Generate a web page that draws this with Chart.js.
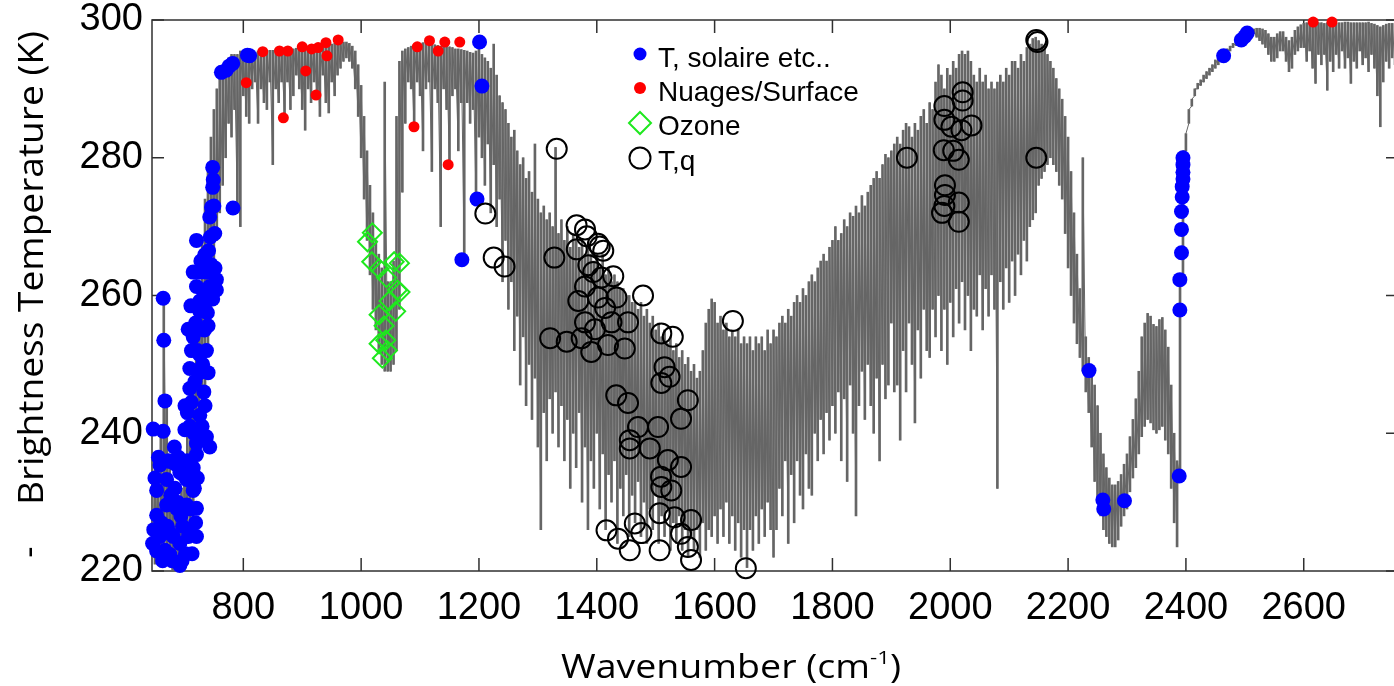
<!DOCTYPE html>
<html lang="fr">
<head>
<meta charset="utf-8">
<title>Brightness Temperature</title>
<script src="https://cdn.jsdelivr.net/npm/chart.js@4.4.1/dist/chart.umd.min.js"></script>
<style>
  html, body { margin: 0; padding: 0; background: #fff; overflow: hidden; }
  #chart { display: block; }
</style>
</head>
<body>
<canvas id="chart" width="1410" height="686"></canvas>
<script>
// spectre (cm-1) : bas et haut de chaque trait
const specWn = [
  645, 650, 655, 660, 665, 670, 675, 680, 685, 690, 695,
  700, 705, 710, 715, 720, 725, 730, 735, 740, 745, 750, 755, 760, 765, 770, 775, 780, 785, 790, 795,
  800, 805, 810, 815, 820, 825, 830, 835, 840, 845, 850, 855, 860, 865, 870, 875, 880, 885, 890, 895,
  900, 905, 910, 915, 920, 925, 930, 935, 940, 945, 950, 955, 960, 965, 970, 975, 980, 985, 990, 995,
  1000, 1005, 1010, 1015, 1020, 1025, 1030, 1035, 1040, 1045, 1050, 1055, 1060, 1065, 1070, 1075, 1080, 1085, 1090, 1095,
  1100, 1105, 1110, 1115, 1120, 1125, 1130, 1135, 1140, 1145, 1150, 1155, 1160, 1165, 1170, 1175, 1180, 1185, 1190, 1195,
  1200, 1205, 1210, 1215, 1220, 1225, 1230, 1235, 1240, 1245, 1250, 1255, 1260, 1265, 1270, 1275, 1280, 1285, 1290, 1295,
  1300, 1305, 1310, 1315, 1320, 1325, 1330, 1335, 1340, 1345, 1350, 1355, 1360, 1365, 1370, 1375, 1380, 1385, 1390, 1395,
  1400, 1405, 1410, 1415, 1420, 1425, 1430, 1435, 1440, 1445, 1450, 1455, 1460, 1465, 1470, 1475, 1480, 1485, 1490, 1495,
  1500, 1505, 1510, 1515, 1520, 1525, 1530, 1535, 1540, 1545, 1550, 1555, 1560, 1565, 1570, 1575, 1580, 1585, 1590, 1595,
  1600, 1605, 1610, 1615, 1620, 1625, 1630, 1635, 1640, 1645, 1650, 1655, 1660, 1665, 1670, 1675, 1680, 1685, 1690, 1695,
  1700, 1705, 1710, 1715, 1720, 1725, 1730, 1735, 1740, 1745, 1750, 1755, 1760, 1765, 1770, 1775, 1780, 1785, 1790, 1795,
  1800, 1805, 1810, 1815, 1820, 1825, 1830, 1835, 1840, 1845, 1850, 1855, 1860, 1865, 1870, 1875, 1880, 1885, 1890, 1895,
  1900, 1905, 1910, 1915, 1920, 1925, 1930, 1935, 1940, 1945, 1950, 1955, 1960, 1965, 1970, 1975, 1980, 1985, 1990, 1995,
  2000, 2005, 2010, 2015, 2020, 2025, 2030, 2035, 2040, 2045, 2050, 2055, 2060, 2065, 2070, 2075, 2080, 2085, 2090, 2095,
  2100, 2105, 2110, 2115, 2120, 2125, 2130, 2135, 2140, 2145, 2150, 2155, 2160, 2165, 2170, 2175, 2180, 2185, 2190, 2195,
  2200, 2205, 2210, 2215, 2220, 2225, 2230, 2235, 2240, 2245, 2250, 2255, 2260, 2265, 2270, 2275, 2280, 2285, 2290, 2295,
  2300, 2305, 2310, 2315, 2320, 2325, 2330, 2335, 2340, 2345, 2350, 2355, 2360, 2365, 2370, 2375, 2380, 2385, 2390, 2395,
  2400, 2405, 2410, 2415, 2420, 2425, 2430, 2435, 2440, 2445, 2450, 2455, 2460, 2465, 2470, 2475, 2480, 2485, 2490, 2495,
  2500, 2505, 2510, 2515, 2520, 2525, 2530, 2535, 2540, 2545, 2550, 2555, 2560, 2565, 2570, 2575, 2580, 2585, 2590, 2595,
  2600, 2605, 2610, 2615, 2620, 2625, 2630, 2635, 2640, 2645, 2650, 2655, 2660, 2665, 2670, 2675, 2680, 2685, 2690, 2695,
  2700, 2705, 2710, 2715, 2720, 2725, 2730, 2735, 2740, 2745, 2750, 2755, 2760
];
const specLo = [
  222, 221, 222, 223, 224, 222, 221, 220, 220, 221, 222,
  223, 224, 225, 227, 232, 236, 240, 247, 252, 258, 263, 268, 272, 276, 280, 285, 283, 287, 272, 270,
  289, 286, 285, 290, 291, 285, 290, 288, 287, 291, 279, 290, 288, 291, 286, 291, 287, 289, 292, 290,
  287, 284, 290, 288, 291, 289, 286, 292, 288, 286.5, 291, 289, 292, 293, 294, 294.5, 294, 293, 290, 286,
  280, 274, 268, 263, 258, 255, 252, 250, 249, 249, 249, 250, 252, 258, 275, 285, 291, 290, 284, 291,
  289, 281, 290, 291, 278, 290, 288, 270, 290, 287, 278.5, 289, 290, 281, 288, 265, 288, 285, 287, 274,
  283, 280, 276, 282, 272, 279, 270, 274, 262, 268, 258, 262, 252, 257, 247, 254, 244, 250, 242, 248,
  238, 226, 243, 236, 245, 240, 246, 238, 244, 236, 242, 232, 240, 235, 243, 230, 238, 226, 236, 232,
  240, 229, 237, 226, 234, 230, 236, 224, 232, 228, 234, 225, 231, 227, 233, 225, 230, 224, 229, 226,
  231, 224, 228, 225, 229, 223, 227, 224, 228, 223, 226, 222, 225, 223, 226, 222, 227, 223, 226, 225,
  228, 224, 229, 225, 230, 224, 228, 223, 227, 222, 226, 220.5, 226, 223, 228, 224, 229, 225, 230, 226,
  222, 226, 232, 228, 236, 224, 234, 227, 236, 231, 229, 237, 232, 231, 240, 236, 242, 237, 243, 239,
  244, 240, 246, 236, 245, 233, 247, 240, 228, 244, 249, 242, 250, 244, 240, 248, 236, 250, 245, 247,
  256, 246, 247, 239, 252, 246, 256, 250, 241.5, 255, 248, 258, 252, 251, 258, 254, 260, 252, 258, 250,
  259, 254, 261, 256, 262, 255, 260, 252, 258, 257, 263, 255, 261, 257, 263, 258, 232, 262, 258, 264,
  259, 265, 260, 266, 263, 268, 265, 270, 271, 272, 276, 277, 278, 279, 280, 279, 278, 276, 274, 269,
  264, 260, 256, 253, 251, 249, 246, 243, 238, 233, 230, 228, 226, 225, 224, 223.5, 223.5, 224.5, 226.5, 228,
  229, 231.5, 233.5, 235, 237, 239.5, 241, 242, 241.5, 240.5, 240, 240.5, 241, 239, 237, 232, 227, 223.5, 233.8, 262,
  281, 285, 287.5, 289, 290, 290.5, 291, 291.5, 292, 292.5, 293, 293.5, 294, 294.5, 295, 295.5, 296, 296.3, 296.7, 297,
  297.3, 297.5, 297.8, 298, 297.5, 297, 296.5, 296, 295, 294, 294, 294.5, 295.5, 295.5, 294, 292.5, 293, 295, 295.5, 296,
  296, 294, 295.5, 293, 290.8, 295, 293.5, 295, 289.8, 294, 292.5, 295, 293, 295.5, 293, 294.5, 290.8, 294, 293, 295.5,
  293.5, 294.5, 292.5, 295, 293, 289, 284.5, 291, 294, 293, 294.5, 293.5, 294.5
];
const specHi = [
  234, 236, 233, 240, 260, 245, 236, 233, 232, 230, 232,
  236, 240, 244, 250, 256, 262, 268, 274, 279, 283, 287, 290, 292, 293, 294, 294.5, 295, 295, 295, 295.5,
  295.5, 295.5, 295.3, 295, 295.3, 295.5, 295.5, 295.6, 295.6, 295.6, 295.6, 295.7, 295.7, 295.7, 295.8, 295.8, 295.8, 295.8, 295.9, 295.9,
  296, 296, 296, 296.1, 296.2, 296.2, 296.3, 296.3, 296.4, 296.4, 296.5, 296.6, 296.8, 296.8, 296.8, 296.8, 296.6, 296.2, 295.5, 293.5,
  290.5, 286, 281, 276, 272, 268, 266, 264, 291, 262, 262, 265, 286, 294, 295.5, 295.8, 296, 296.2, 296.4, 296.5,
  296.6, 296.7, 296.7, 296.6, 296.5, 296.4, 296.3, 296.2, 296.2, 296.2, 296.1, 296, 295.8, 295.8, 295.7, 295.6, 295.5, 295.3, 295.2, 295.5,
  296, 295, 294.5, 294, 293, 296.5, 292, 289, 288, 287, 285, 283, 284, 281, 279, 280, 277, 278, 275, 282,
  274, 272, 273, 271, 272, 270, 281.5, 269, 271, 268, 270, 267, 269, 268, 267, 268, 266, 267, 266, 265,
  266, 264, 266, 263, 264, 262, 263, 262, 261, 261, 260, 260, 259, 259, 258, 259, 257, 258, 256, 257,
  255, 256, 254, 255, 253, 254, 252, 253, 251, 252, 250, 251, 249, 250, 248, 249, 252, 256, 258, 259.5,
  259, 256, 257, 255, 256, 254, 255, 254, 255, 253, 254, 253, 254, 252, 254, 253, 254, 252, 255, 253,
  255, 254, 256, 257, 256, 258, 257, 259, 260, 259, 261, 260, 262, 263, 262, 264, 265, 266, 265, 267,
  268, 270, 268, 269, 271, 270, 272, 271.5, 273, 272, 274.5, 273, 275, 276, 277, 278, 277, 279, 280.5, 280,
  281, 282, 283, 282, 284, 285, 284.5, 283, 285, 284, 286, 287, 285, 288, 287, 291, 293.5, 292, 290, 293,
  292, 294, 293, 295, 295.5, 295, 295.5, 294, 292, 291, 293, 291, 292, 290, 291, 290, 291, 292, 291, 293,
  292, 294, 294, 293, 295, 294, 296, 296.5, 297.3, 297.5, 297, 296.5, 296, 295, 294, 293, 291.5, 290, 288.5, 286,
  283, 278, 272, 266, 261, 280, 254, 251, 249, 247, 244, 240, 237, 235, 233.5, 232.5, 232.5, 233, 234, 235.5,
  237, 239.5, 242, 245, 249, 254, 256, 257.4, 257, 255.8, 255.5, 256.5, 256.8, 255, 252.5, 247, 240, 236, 262, 281,
  283.5, 287, 288.5, 290, 290.8, 291.3, 292, 292.5, 293, 293.5, 294.2, 294.6, 295, 295.4, 295.8, 296.2, 296.6, 297, 297.4, 297.7,
  298, 298.3, 298.5, 298.7, 298.8, 298.8, 298.7, 298.5, 298, 297.5, 297.5, 298, 298.3, 298.3, 297.5, 297, 297.5, 298.5, 299, 299.3,
  299.5, 299.6, 299.6, 299.6, 299.6, 299.6, 299.6, 299.5, 299.6, 299.6, 299.6, 299.5, 299.6, 299.6, 299.7, 299.7, 299.6, 299.6, 299.6, 299.6,
  299.6, 299.6, 299.7, 299.5, 299.4, 299.2, 299, 299.2, 299.4, 299.5, 299.5, 299.5, 299.5
];

// canaux "T, solaire etc.."
const solaireWn = [
  647, 664, 665, 667, 664, 658.5, 675.4, 652.9, 669.8, 692.3, 709.2, 720.5, 703.6, 714.9, 652.9, 669.8,
  686.7, 703.6, 720.5, 658.5, 675.4, 692.3, 709.2, 720.5, 692.3, 675.4, 652.9, 648, 684, 697,
  646, 650, 656, 661, 663, 667, 671, 673, 677, 679, 681, 683, 685, 688, 690, 694, 696, 698, 700, 702,
  705, 707, 711, 713, 715, 717, 719, 722,
  701, 705, 712, 716, 730, 733, 735, 718, 722, 731, 734, 719, 711, 728, 741, 745, 752, 739, 748, 744, 750, 749,
  709.2, 726.1, 737.4, 700.8, 720.5, 743, 706.4, 714.9, 726.1, 740.2, 712, 726, 737.4, 709.2, 726.1, 740.2, 709.2,
  714.9, 726.1, 737.4, 748.7, 754.3, 720.5, 731.8, 743, 754.3, 726.1, 737.4, 726.1, 731.8,
  720.5, 734.6, 746, 743, 748, 748, 751.5, 782.5, 762.8, 771, 776, 782, 807, 810.7,
  1171, 1196.7, 1201, 1205,
  2235.5, 2259, 2260.5, 2295.7, 2388.6, 2389.7, 2389.7, 2392.5, 2392.5, 2392.5, 2393.7, 2393.7,
  2395, 2395, 2395, 2395, 2464, 2494, 2500, 2504
];
const solaireT = [
  240.6, 259.6, 253.5, 244.7, 240.3, 235.4, 235.9, 231.7, 233.3, 234.3, 235.9, 236.9, 233.3, 231.7, 228.1, 229.6,
  229.1, 229.6, 229.1, 225, 225.5, 224, 226, 225, 220.8, 222.4, 222.9, 226, 232, 226.5,
  224, 233.5, 236.5, 227, 221.5, 223, 226.5, 236, 231, 221.5, 225, 238, 235.5, 230, 236.5, 228, 221.5, 234, 229, 222.5,
  236, 225, 229, 222.5, 235, 232, 227, 233.5,
  244, 243, 244.5, 240, 241, 246, 244, 247.5, 252, 250, 255, 256, 258.5, 265, 266.5, 264.5, 264, 257.5, 259.5, 268.5, 273, 276.8,
  241, 242.6, 239.5, 240.5, 238.5, 238, 255.1, 254, 255.1, 255.6, 252, 251.4, 252, 249.4, 248.8, 248.8, 246.5,
  263.4, 263.4, 263.4, 263.4, 262.3, 261.3, 260.8, 261.3, 260.8, 259.2, 259.2, 257.7, 258.7,
  268, 265.9, 272.8, 271.4, 278.6, 275.7, 269, 272.7, 292.4, 292.7, 293.3, 293.7, 294.9, 294.8,
  265.2, 274, 296.8, 290.4,
  249.1, 230.3, 229, 230.2, 233.8, 257.9, 262.3, 266.2, 269.6, 272.2, 274.3, 275.8,
  276.9, 277.9, 279, 280, 294.8, 297.1, 297.6, 298.1
];

// canaux "Nuages/Surface"
const nuagesWn = [805, 833, 861.4, 875.5, 868, 900, 906, 916, 923.4, 927, 940.3, 942, 961,
  1089.7, 1095.3, 1116, 1130.8, 1142, 1147.7, 1167.4, 2616, 2648];
const nuagesT = [290.9, 295.4, 295.5, 295.5, 285.8, 296.1, 292.6, 295.8, 289.1, 296, 296.7, 294.8, 297.1,
  284.5, 296.1, 297, 295.5, 296.8, 279, 296.8, 299.7, 299.7];

// canaux "Ozone"
const ozoneWn = [1010.8, 1019, 1018, 1030.5, 1043, 1056, 1061.5, 1047.4, 1058.6, 1030.5, 1039, 1041.8,
  1030.5, 1036, 1044.6, 1065, 1066];
const ozoneT = [267.8, 269.1, 264.9, 263.9, 262.6, 264.9, 260.8, 259.2, 257.7, 257.2, 255.6, 253.5,
  253, 250.9, 252, 264.7, 260.5];

// canaux "T,q"
const tqWn = [
  1210.8, 1225, 1243.5, 1332, 1328, 1365.7, 1380, 1383, 1402, 1405, 1411, 1366, 1385.6, 1394, 1408, 1428,
  1380, 1368.6, 1402, 1433.5, 1414, 1478.5, 1380, 1397, 1425, 1453, 1320.8, 1349, 1374.3, 1390.6, 1419, 1447.5,
  1509.5, 1529, 1515, 1523.6, 1509.5, 1554.6, 1543, 1433, 1453, 1470, 1504, 1456, 1456, 1490, 1520.7, 1543,
  1509, 1509.5, 1526.4, 1416.5, 1436, 1456, 1464.5, 1475.6, 1506.7, 1506.7, 1532, 1560, 1543, 1554.6, 1560,
  1653, 1631, 1926.5, 2021, 2021, 1990, 1990, 2002, 2019, 2036, 1989, 2005, 2014.5, 1991, 1991, 1990,
  2014.5, 1986, 2014.5, 2146, 2148, 2146
];
const tqT = [
  271.9, 265.5, 264.2, 281.3, 265.5, 270.2, 269.6, 268.6, 267.5, 267.1, 266.5, 266.7, 264.4, 263.4, 262.6, 262.8,
  261.3, 259.2, 259.7, 259.7, 258.2, 260, 256.1, 255.1, 256.1, 256.1, 253.8, 253.3, 253.8, 251.8, 252.8, 252.3,
  254.5, 254, 249.6, 248.2, 247.3, 244.8, 242.1, 245.5, 244.4, 240.9, 240.9, 239, 237.8, 237.8, 236.1, 235.1,
  233.7, 232.2, 231.7, 225.9, 224.7, 223, 226.9, 225.5, 228.4, 223, 227.8, 227.4, 225.4, 223.5, 221.6,
  220.4, 256.3, 280, 289.5, 288.3, 287.5, 285.5, 284.5, 284, 284.7, 281.1, 281, 279.7, 276, 274.6, 273,
  273.5, 272, 270.7, 297.1, 296.8, 280
];

const xTickValues = [800, 1000, 1200, 1400, 1600, 1800, 2000, 2200, 2400, 2600];
const yTickValues = [220, 240, 260, 280, 300];

const BLUE = '#0000ff', RED = '#ff0000', GREEN = '#1ee81e', BLACK = '#000000', GREY = '#666666';

function toPoints(xs, ys) {
  return xs.map((x, i) => ({ x: x, y: ys[i] }));
}

// le trait du spectre : bas puis haut de chaque canal
const specLine = [];
specWn.forEach((w, i) => {
  specLine.push({ x: w, y: specLo[i] });
  specLine.push({ x: w, y: specHi[i] });
});

// cadre, graduations internes, titres d'axes et légende
const decorPlugin = {
  id: 'decor',
  beforeDatasetsDraw(chart) {
    const { ctx, chartArea: a, scales } = chart;
    ctx.save();
    ctx.strokeStyle = '#303030';
    ctx.lineWidth = 1.5;
    ctx.strokeRect(a.left, a.top, a.right - a.left, a.bottom - a.top);
    ctx.beginPath();
    xTickValues.forEach(v => {
      const px = scales.x.getPixelForValue(v);
      ctx.moveTo(px, a.bottom); ctx.lineTo(px, a.bottom - 13);
      ctx.moveTo(px, a.top); ctx.lineTo(px, a.top + 13);
    });
    yTickValues.forEach(v => {
      const py = scales.y.getPixelForValue(v);
      ctx.moveTo(a.left, py); ctx.lineTo(a.left + 12, py);
      ctx.moveTo(a.right, py); ctx.lineTo(a.right - 12, py);
    });
    ctx.stroke();
    ctx.restore();
  },
  afterDraw(chart) {
    const ctx = chart.ctx;
    ctx.save();
    ctx.fillStyle = '#000';
    ctx.textBaseline = 'alphabetic';

    // titre x avec exposant
    const big = '32px "Open Sans"', small = '19px "Open Sans"';
    ctx.font = big;
    const wMain = ctx.measureText('Wavenumber (cm').width;
    const wClose = ctx.measureText(')').width;
    ctx.font = small;
    const wSup = ctx.measureText('-1').width;
    const sx = 340 / (wMain + wSup + wClose);
    ctx.save();
    ctx.translate(561, 678);
    ctx.scale(sx, 1);
    ctx.textAlign = 'left';
    ctx.font = big;
    ctx.fillText('Wavenumber (cm', 0, 0);
    ctx.font = small;
    ctx.fillText('-1', wMain, -14);
    ctx.font = big;
    ctx.fillText(')', wMain + wSup, 0);
    ctx.restore();

    // titre y
    ctx.save();
    ctx.translate(43, 268);
    ctx.rotate(-Math.PI / 2);
    ctx.font = '35px "Open Sans"';
    const wy = ctx.measureText('Brightness Temperature (K)').width;
    ctx.scale(474 / wy, 1);
    ctx.textAlign = 'center';
    ctx.fillText('Brightness Temperature (K)', 0, 0);
    ctx.restore();

    ctx.save();
    ctx.translate(40, 552);
    ctx.rotate(-Math.PI / 2);
    ctx.font = '35px "Open Sans"';
    ctx.textAlign = 'center';
    ctx.fillText('-', 0, 0);
    ctx.restore();

    // légende
    const rows = [
      { ds: 2, kind: 'dot', r: 6.5, color: BLUE, my: 54, ty: 67 },
      { ds: 3, kind: 'dot', r: 6, color: RED, my: 88, ty: 101 },
      { ds: 4, kind: 'diamond', r: 11, color: GREEN, my: 123, ty: 135 },
      { ds: 5, kind: 'ring', r: 10.5, color: BLACK, my: 158, ty: 170 }
    ];
    ctx.font = '28px "Liberation Sans", Arial, sans-serif';
    ctx.textAlign = 'left';
    rows.forEach(row => {
      const mx = 640;
      ctx.beginPath();
      if (row.kind === 'diamond') {
        ctx.moveTo(mx, row.my - row.r);
        ctx.lineTo(mx + row.r, row.my);
        ctx.lineTo(mx, row.my + row.r);
        ctx.lineTo(mx - row.r, row.my);
        ctx.closePath();
      } else {
        ctx.arc(mx, row.my, row.r, 0, Math.PI * 2);
      }
      if (row.kind === 'dot') {
        ctx.fillStyle = row.color;
        ctx.fill();
      } else {
        ctx.strokeStyle = row.color;
        ctx.lineWidth = 2;
        ctx.stroke();
      }
      ctx.fillStyle = '#000';
      ctx.fillText(chart.data.datasets[row.ds].label, 658, row.ty);
    });
    ctx.restore();
  }
};

const tickFont = { family: '"Liberation Sans", Arial, sans-serif', size: 38, lineHeight: 1 };

new Chart(document.getElementById('chart'), {
  type: 'bar',
  data: {
    datasets: [
      {
        type: 'bar',
        label: 'spectre',
        data: specWn.map((w, i) => ({ x: w, y: [specLo[i], specHi[i]] })),
        backgroundColor: GREY,
        borderWidth: 0,
        barThickness: 2,
        grouped: false,
        order: 10
      },
      {
        type: 'line',
        label: 'spectre (trait)',
        data: specLine,
        borderColor: GREY,
        borderWidth: 1,
        pointRadius: 0,
        tension: 0,
        fill: false,
        order: 9
      },
      {
        type: 'scatter',
        label: 'T, solaire etc..',
        data: toPoints(solaireWn, solaireT),
        pointStyle: 'circle',
        pointRadius: 7.5,
        backgroundColor: BLUE,
        borderColor: BLUE,
        borderWidth: 0,
        clip: false,
        order: 4
      },
      {
        type: 'scatter',
        label: 'Nuages/Surface',
        data: toPoints(nuagesWn, nuagesT),
        pointStyle: 'circle',
        pointRadius: 5.5,
        backgroundColor: RED,
        borderColor: RED,
        borderWidth: 0,
        clip: false,
        order: 3
      },
      {
        type: 'scatter',
        label: 'Ozone',
        data: toPoints(ozoneWn, ozoneT),
        pointStyle: 'rectRot',
        pointRadius: 9.5,
        backgroundColor: 'rgba(0,0,0,0)',
        borderColor: GREEN,
        borderWidth: 2,
        clip: false,
        order: 2
      },
      {
        type: 'scatter',
        label: 'T,q',
        data: toPoints(tqWn, tqT),
        pointStyle: 'circle',
        pointRadius: 10,
        backgroundColor: 'rgba(0,0,0,0)',
        borderColor: BLACK,
        borderWidth: 2,
        clip: false,
        order: 1
      }
    ]
  },
  options: {
    responsive: false,
    animation: false,
    devicePixelRatio: 1,
    layout: { padding: { top: 20, right: 7, left: 0, bottom: 0 } },
    plugins: {
      legend: { display: false },
      tooltip: { enabled: false }
    },
    scales: {
      x: {
        type: 'linear',
        min: 645,
        max: 2760,
        offset: false,
        grid: { display: false, drawTicks: false },
        border: { display: false },
        afterBuildTicks: s => { s.ticks = xTickValues.map(v => ({ value: v })); },
        afterFit: s => { s.height = 115; s.paddingLeft = 0; s.paddingRight = 0; },
        ticks: {
          autoSkip: false, maxRotation: 0, minRotation: 0, padding: 19,
          color: '#000', font: tickFont,
          callback: v => String(v)
        }
      },
      y: {
        type: 'linear',
        min: 220,
        max: 300,
        grid: { display: false, drawTicks: false },
        border: { display: false },
        afterBuildTicks: s => { s.ticks = yTickValues.map(v => ({ value: v })); },
        afterFit: s => { s.width = 152; s.paddingTop = 0; s.paddingBottom = 0; },
        ticks: {
          autoSkip: false, padding: 9,
          color: '#000', font: tickFont,
          callback: v => String(v)
        }
      }
    }
  },
  plugins: [decorPlugin]
});
</script>
</body>
</html>
